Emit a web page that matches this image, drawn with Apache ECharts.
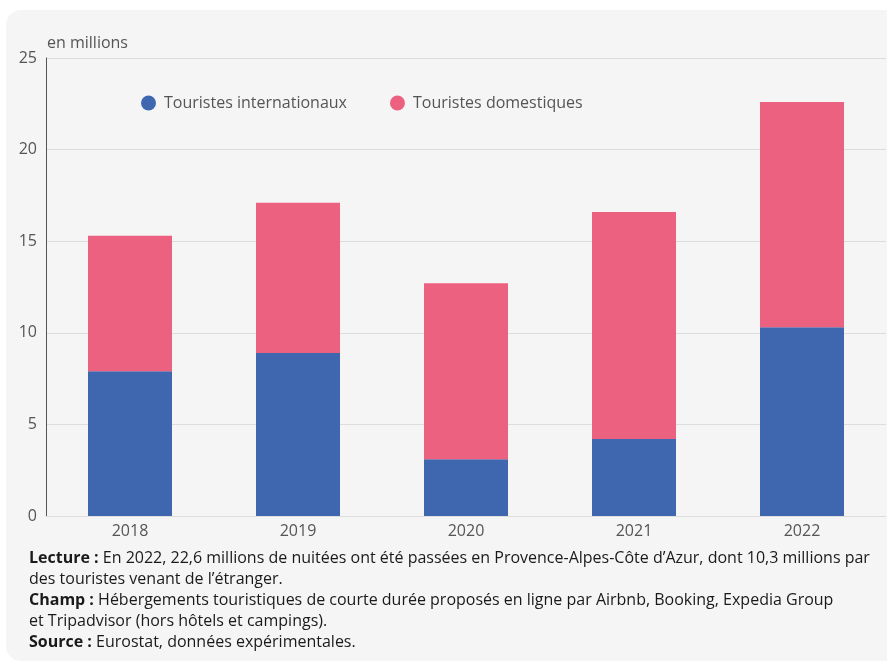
<!DOCTYPE html>
<html>
<head>
<meta charset="utf-8">
<script src="https://cdn.jsdelivr.net/npm/echarts@6/dist/echarts.min.js"></script>
<style>
  html, body { margin: 0; padding: 0; background: #ffffff; }
  #chart { width: 887px; height: 662px; }
</style>
</head>
<body>
<div id="chart"></div>
<script>
// Nuitées en hébergements de courte durée, Provence-Alpes-Côte d'Azur (en millions)
const years = ['2018', '2019', '2020', '2021', '2022'];
const international = [7.9, 8.9, 3.1, 4.2, 10.3];
const domestic = [7.4, 8.2, 9.6, 12.4, 12.3];
const seriesNames = ['Touristes internationaux', 'Touristes domestiques'];
const unitLabel = 'en millions';

const notes = [
  [['Lecture : ', 'En 2022, 22,6 millions de nuitées ont été passées en Provence-Alpes-Côte d’Azur, dont 10,3 millions par']],
  [[null, 'des touristes venant de l’étranger.']],
  [['Champ : ', 'Hébergements touristiques de courte durée proposés en ligne par Airbnb, Booking, Expedia Group']],
  [[null, 'et Tripadvisor (hors hôtels et campings).']],
  [['Source : ', 'Eurostat, données expérimentales.']]
];

const FONT = '"Open Sans", "Noto Sans", sans-serif';
const BLUE = '#3e67b0';
const PINK = '#ec617f';

const chart = echarts.init(document.getElementById('chart'), null, { renderer: 'canvas' });

const noteGraphics = notes.map((line, i) => {
  const [bold, normal] = line[0];
  return {
    type: 'text',
    left: 29,
    top: 550 + i * 21,
    silent: true,
    style: {
      text: (bold ? '{b|' + bold + '}' : '') + '{n|' + normal + '}',
      rich: {
        b: { fontFamily: FONT, fontSize: 16, fontWeight: 'bold', fill: '#1a1a1a' },
        n: { fontFamily: FONT, fontSize: 16, fill: '#1a1a1a' }
      }
    }
  };
});

chart.setOption({
  animation: false,
  backgroundColor: '#ffffff',
  textStyle: { fontFamily: FONT },
  graphic: [
    {
      type: 'rect',
      z: -10,
      silent: true,
      shape: { x: 6, y: 10, width: 895, height: 651, r: 15 },
      style: { fill: '#f5f5f5' }
    },
    {
      type: 'text',
      left: 47,
      top: 35,
      silent: true,
      style: { text: unitLabel, fontFamily: FONT, fontSize: 16, fill: '#555555' }
    },
    ...noteGraphics
  ],
  legend: {
    data: seriesNames,
    left: 141,
    top: 95,
    padding: 0,
    icon: 'circle',
    itemWidth: 19,
    itemHeight: 15,
    itemGap: 43,
    textStyle: { fontFamily: FONT, fontSize: 16, color: '#555555', padding: [0, 0, 0, 1] }
  },
  grid: { left: 46, right: 1, top: 58, bottom: 146, containLabel: false },
  xAxis: {
    type: 'category',
    data: years,
    axisLine: { show: true, lineStyle: { color: '#dddddd', width: 1 } },
    axisTick: { show: false },
    axisLabel: { color: '#555555', fontSize: 16, fontFamily: FONT, margin: 7 }
  },
  yAxis: {
    type: 'value',
    min: 0,
    max: 25,
    interval: 5,
    axisLine: { show: true, lineStyle: { color: '#555555', width: 1 } },
    axisTick: { show: false },
    axisLabel: { color: '#555555', fontSize: 16, fontFamily: FONT, margin: 9 },
    splitLine: { show: true, lineStyle: { color: '#dddddd', width: 1 } }
  },
  series: [
    {
      name: seriesNames[0],
      type: 'bar',
      stack: 'total',
      barWidth: '50%',
      data: international,
      itemStyle: { color: BLUE }
    },
    {
      name: seriesNames[1],
      type: 'bar',
      stack: 'total',
      barWidth: '50%',
      data: domestic,
      itemStyle: { color: PINK }
    }
  ]
});
</script>
</body>
</html>
